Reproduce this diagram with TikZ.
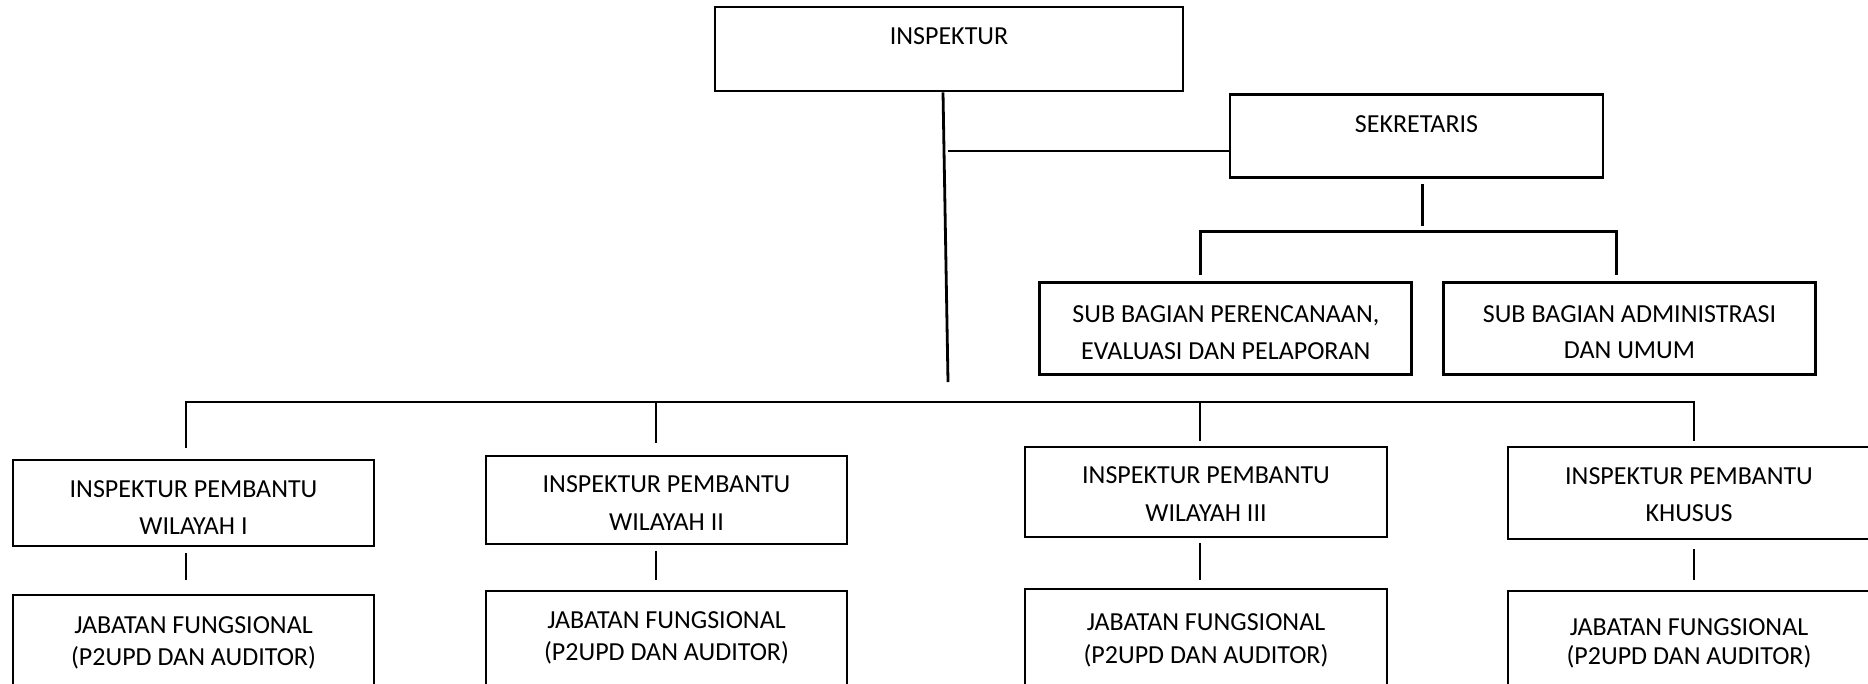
\documentclass[tikz,border=0pt]{standalone}
\usepackage{fontspec}
\setmainfont{Carlito}
\usetikzlibrary{calc}
\begin{document}
\begin{tikzpicture}[x=1pt,y=-1pt,
  box/.style={draw,line width=2.8pt,rectangle,inner sep=0pt,line join=miter},
  ln/.style={line width=2.8pt},
  lbl/.style={font=\fontsize{26}{30}\selectfont,anchor=base,inner sep=0pt},
]
\useasboundingbox (0,0) rectangle (1868,683);
\clip (0,0) rectangle (1868,683);

% boxes
\node[box,minimum width=468pt,minimum height=84pt] (insp) at (949,49) {};
\node[box,minimum width=373pt,minimum height=83pt] (sek) at (1416.5,136.2) {};
\node[box,minimum width=372pt,minimum height=91.6pt] (sub1) at (1225.8,328.5) {};
\node[box,minimum width=372pt,minimum height=91.6pt] (sub2) at (1629.5,328.5) {};
\node[box,minimum width=361pt,minimum height=86pt] (ip1) at (193.5,503) {};
\node[box,minimum width=361pt,minimum height=88pt] (ip2) at (666.5,500) {};
\node[box,minimum width=362pt,minimum height=90pt] (ip3) at (1206,492) {};
\node[box,minimum width=362pt,minimum height=92pt] (ipk) at (1689,493) {};
\node[box,minimum width=361pt,minimum height=125pt] (jf1) at (193.5,657.5) {};
\node[box,minimum width=361pt,minimum height=129pt] (jf2) at (666.5,655.5) {};
\node[box,minimum width=362pt,minimum height=131pt] (jf3) at (1206,654.5) {};
\node[box,minimum width=362pt,minimum height=129pt] (jfk) at (1689,655.5) {};

% texts
\node[lbl] (inspT) at (949,44.4) {INSPEKTUR};
\node[lbl] (sekT) at (1416.5,132.7) {SEKRETARIS};
\node[lbl] (sub1a) at (1225.8,322.4) {SUB BAGIAN PERENCANAAN,};
\node[lbl] (sub1b) at (1225.8,359.1) {EVALUASI DAN PELAPORAN};
\node[lbl] (sub2a) at (1629.5,322.4) {SUB BAGIAN ADMINISTRASI};
\node[lbl] (sub2b) at (1629.5,358.6) {DAN UMUM};
\node[lbl] (ip1a) at (193.5,497.4) {INSPEKTUR PEMBANTU};
\node[lbl] (ip1b) at (193.5,534.1) {WILAYAH I};
\node[lbl] (ip2a) at (666.5,492.4) {INSPEKTUR PEMBANTU};
\node[lbl] (ip2b) at (666.5,530.4) {WILAYAH II};
\node[lbl] (ip3a) at (1206,483.4) {INSPEKTUR PEMBANTU};
\node[lbl] (ip3b) at (1206,521.7) {WILAYAH III};
\node[lbl] (ipka) at (1689,484.1) {INSPEKTUR PEMBANTU};
\node[lbl] (ipkb) at (1689,521.7) {KHUSUS};
\node[lbl] (jf1a) at (193.5,633.4) {JABATAN FUNGSIONAL};
\node[lbl] (jf1b) at (193.5,665.1) {(P2UPD DAN AUDITOR)};
\node[lbl] (jf2a) at (666.5,628.4) {JABATAN FUNGSIONAL};
\node[lbl] (jf2b) at (666.5,660.1) {(P2UPD DAN AUDITOR)};
\node[lbl] (jf3a) at (1206,630.7) {JABATAN FUNGSIONAL};
\node[lbl] (jf3b) at (1206,663.4) {(P2UPD DAN AUDITOR)};
\node[lbl] (jfka) at (1689,635.1) {JABATAN FUNGSIONAL};
\node[lbl] (jfkb) at (1689,664.4) {(P2UPD DAN AUDITOR)};

% junction coordinates
\coordinate (inspfoot) at (948,382);
\coordinate (sekj) at (948,151);
\coordinate (sekd1) at (1422.5,184);
\coordinate (sekd2) at (1422.5,226);
\coordinate (sbL) at (1200.5,231.7);
\coordinate (sbR) at (1616.7,231.7);
\coordinate (mbL) at (186,402);
\coordinate (mbR) at (1694,402);
\coordinate (j2) at (656,402);
\coordinate (j3) at (1200,402);

% connectors
\draw[ln] ($(insp.south)+(-6,0)$) -- (inspfoot);
\draw[ln] (sekj) -- (sekj -| sek.west);
\draw[ln] (sekd1) -- (sekd2);
\draw[ln] ($(sub1.north -| sbL)+(0,-6)$) -- (sbL) -- (sbR) -- ($(sub2.north -| sbR)+(0,-6)$);
\draw[ln] ($(ip1.north -| mbL)+(0,-11)$) -- (mbL) -- (mbR) -- ($(ipk.north -| mbR)+(0,-5)$);
\draw[ln] (j2) -- ($(ip2.north -| j2)+(0,-12)$);
\draw[ln] (j3) -- ($(ip3.north -| j3)+(0,-5)$);
\draw[ln] ($(ip1.south -| mbL)+(0,6)$) -- ($(jf1.north -| mbL)+(0,-14)$);
\draw[ln] ($(ip2.south -| j2)+(0,6)$) -- ($(jf2.north -| j2)+(0,-10)$);
\draw[ln] ($(ip3.south -| j3)+(0,5)$) -- ($(jf3.north -| j3)+(0,-8)$);
\draw[ln] ($(ipk.south -| mbR)+(0,9)$) -- ($(jfk.north -| mbR)+(0,-10)$);
\end{tikzpicture}
\end{document}
